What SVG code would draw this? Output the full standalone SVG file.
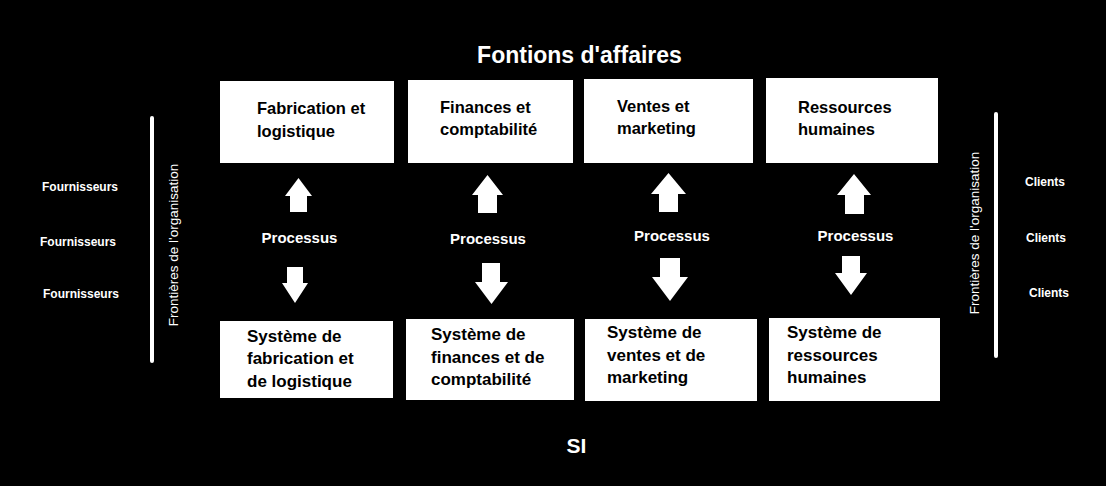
<svg xmlns="http://www.w3.org/2000/svg" width="1106" height="486" viewBox="0 0 1106 486">
<style>
text{font-family:"Liberation Sans",Arial,sans-serif;font-weight:bold;}
.box{fill:#fff;}
.bt{fill:#000;font-size:16.5px;}
.bs{fill:#000;font-size:17px;}
.w{fill:#fff;}
.proc{fill:#fff;font-size:15px;}
.side{fill:#fff;font-size:12px;}
.rot{fill:#fff;font-size:13.5px;font-weight:normal;}
.arrow{fill:#fff;}
.bound{stroke:#fff;stroke-width:4;stroke-linecap:round;}
</style>
<rect x="0" y="0" width="1106" height="486" fill="#000"/>
<text class="w" x="579.5" y="63" font-size="23" text-anchor="middle">Fontions d'affaires</text>
<text class="w" x="576.5" y="453" font-size="21" text-anchor="middle">SI</text>

<g id="fournisseurs">
<text class="side" x="42" y="191">Fournisseurs</text>
<text class="side" x="40" y="246">Fournisseurs</text>
<text class="side" x="43" y="298">Fournisseurs</text>
</g>
<g id="frontiere-gauche">
<line class="bound" x1="152" y1="118" x2="152" y2="361"/>
<text class="rot" transform="translate(177.5,245) rotate(-90)" text-anchor="middle">Frontières de l'organisation</text>
</g>
<g id="frontiere-droite">
<line class="bound" x1="996" y1="114" x2="996" y2="356"/>
<text class="rot" transform="translate(979,233) rotate(-90)" text-anchor="middle">Frontières de l'organisation</text>
</g>
<g id="clients">
<text class="side" x="1025" y="186" font-size="12.5">Clients</text>
<text class="side" x="1026" y="242" font-size="12.5">Clients</text>
<text class="side" x="1029" y="297" font-size="12.5">Clients</text>
</g>

<g id="f1"><rect class="box" x="220" y="81" width="174" height="82"/>
<text class="bt" x="257" y="114">Fabrication et</text><text class="bt" x="257" y="137">logistique</text></g>
<g id="f2"><rect class="box" x="408" y="80" width="165" height="83"/>
<text class="bt" x="440" y="113">Finances et</text><text class="bt" x="440" y="135">comptabilité</text></g>
<g id="f3"><rect class="box" x="584" y="79" width="169" height="84"/>
<text class="bt" x="617" y="112">Ventes et</text><text class="bt" x="617" y="134">marketing</text></g>
<g id="f4"><rect class="box" x="766" y="78" width="172" height="85"/>
<text class="bt" x="798" y="113">Ressources</text><text class="bt" x="798" y="135">humaines</text></g>

<g id="p1"><text class="proc" x="299.5" y="243" text-anchor="middle">Processus</text></g>
<g id="p2"><text class="proc" x="488" y="244" text-anchor="middle">Processus</text></g>
<g id="p3"><text class="proc" x="672" y="241" text-anchor="middle">Processus</text></g>
<g id="p4"><text class="proc" x="855.5" y="241" text-anchor="middle">Processus</text></g>

<g id="s1"><rect class="box" x="220" y="321" width="173" height="77"/>
<text class="bs" x="247" y="342">Système de</text><text class="bs" x="247" y="364">fabrication et</text><text class="bs" x="247" y="387">de logistique</text></g>
<g id="s2"><rect class="box" x="406" y="319" width="168" height="81"/>
<text class="bs" x="431" y="340">Système de</text><text class="bs" x="431" y="363">finances et de</text><text class="bs" x="431" y="385">comptabilité</text></g>
<g id="s3"><rect class="box" x="585" y="319" width="172" height="82"/>
<text class="bs" x="607" y="338">Système de</text><text class="bs" x="607" y="361">ventes et de</text><text class="bs" x="607" y="383">marketing</text></g>
<g id="s4"><rect class="box" x="769" y="318" width="171" height="83"/>
<text class="bs" x="787" y="338">Système de</text><text class="bs" x="787" y="361">ressources</text><text class="bs" x="787" y="383">humaines</text></g>

<g id="connectors">
<path class="arrow" d="M298.5,178 L312,196 L307,196 L307,212 L290,212 L290,196 L285,196 Z"/>
<path class="arrow" d="M487.5,175 L503,195 L497,195 L497,213 L478,213 L478,195 L472,195 Z"/>
<path class="arrow" d="M668.5,173 L686,194 L678,194 L678,212 L659,212 L659,194 L651,194 Z"/>
<path class="arrow" d="M854,174 L871,195 L864,195 L864,214 L845,214 L845,195 L837,195 Z"/>
<path class="arrow" d="M287,267 L303,267 L303,283 L308,283 L295,303 L282,283 L287,283 Z"/>
<path class="arrow" d="M482,263 L500,263 L500,282 L508,282 L491.5,304 L475,282 L482,282 Z"/>
<path class="arrow" d="M660,258 L680,258 L680,277 L688,277 L670,301 L652,277 L660,277 Z"/>
<path class="arrow" d="M842,256 L860,256 L860,273 L867,273 L851,295 L835,273 L842,273 Z"/>
</g>
</svg>
